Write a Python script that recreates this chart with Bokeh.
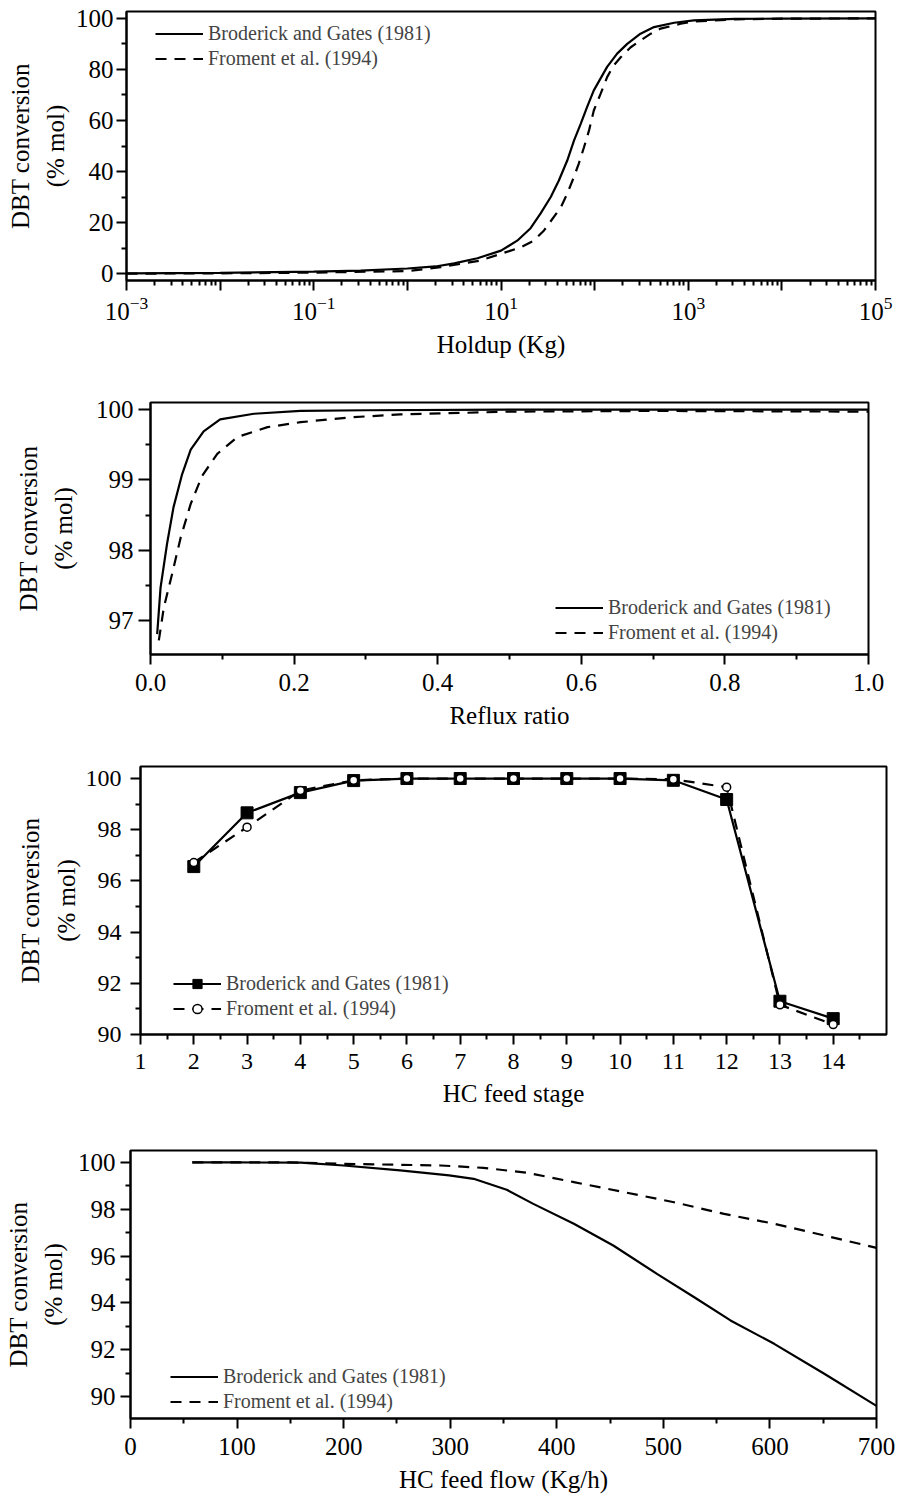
from bokeh.plotting import figure
from bokeh.models import FixedTicker, Legend, LegendItem, PrintfTickFormatter, Range1d
from bokeh.embed import file_html
from bokeh.resources import INLINE

FONT = "Liberation Serif"
YLABEL = "DBT conversion\n(% mol)"
BG_LABEL = "Broderick and Gates (1981)"
FR_LABEL = "Froment et al. (1994)"

# ---- Panel 1: Holdup (Kg), log axis ----
holdup_bg_x = [0.001, 0.01, 0.1, 0.316, 1, 2, 3.16, 5.6, 10, 14.9, 20.7, 26.5, 34, 41.5, 51, 60.3, 71, 83, 98,
               136, 174, 223, 309, 431, 708, 1150, 3160, 10000, 100000]
holdup_bg_y = [0.1, 0.3, 0.8, 1.2, 2.0, 2.8, 4.0, 6.0, 9.0, 12.9, 17.8, 23.6, 30.0, 36.5, 44.3, 52.2, 58.7, 65.2, 71.8,
               81.0, 86.2, 90.0, 94.0, 96.6, 98.3, 99.2, 99.8, 99.9, 100.0]
holdup_fr_x = [0.001, 0.01, 0.1, 1, 2.26, 6.0, 16.2, 22.4, 28.8, 43.6, 51, 60, 67.6, 77, 87, 98, 116, 136, 160, 190,
               243, 310, 398, 507, 830, 1150, 3160, 10000, 100000]
holdup_fr_y = [0.0, 0.1, 0.4, 1.0, 2.5, 5.1, 10.3, 12.9, 16.9, 26.0, 31.3, 37.8, 43.0, 49.5, 56.0, 63.9, 70.5, 77.0,
               81.6, 84.8, 88.7, 91.4, 94.0, 96.0, 97.9, 98.8, 99.6, 99.9, 100.0]
holdup_major = [1e-3, 1e-2, 1e-1, 1e0, 1e1, 1e2, 1e3, 1e4, 1e5]
holdup_unlabeled = [1e-2, 1e0, 1e2, 1e4]
holdup_y_ticks = [0, 20, 40, 60, 80, 100]
holdup_y_minor = [10, 30, 50, 70, 90]

# ---- Panel 2: Reflux ratio ----
reflux_bg_x = [0.0093, 0.014, 0.023, 0.032, 0.044, 0.056, 0.074, 0.097, 0.144, 0.209, 0.3, 0.5, 0.7, 1.0]
reflux_bg_y = [96.81, 97.47, 98.09, 98.61, 99.08, 99.43, 99.69, 99.86, 99.94, 99.98, 99.99, 100.0, 100.0, 100.0]
reflux_fr_x = [0.0116, 0.0186, 0.030, 0.042, 0.056, 0.072, 0.093, 0.121, 0.163, 0.209, 0.279, 0.348, 0.5, 0.7, 1.0]
reflux_fr_y = [96.72, 97.19, 97.66, 98.18, 98.66, 99.06, 99.37, 99.61, 99.75, 99.82, 99.89, 99.93, 99.97, 99.98, 99.97]
reflux_x_ticks = [0.0, 0.2, 0.4, 0.6, 0.8, 1.0]
reflux_x_minor = [0.1, 0.3, 0.5, 0.7, 0.9]
reflux_y_ticks = [97, 98, 99, 100]
reflux_y_minor = [96.5, 97.5, 98.5, 99.5]

# ---- Panel 3: HC feed stage ----
stage = [2, 3, 4, 5, 6, 7, 8, 9, 10, 11, 12, 13, 14]
stage_bg = [96.56, 98.66, 99.45, 99.92, 100.0, 100.0, 100.0, 100.0, 100.0, 99.93, 99.18, 91.3, 90.62]
stage_fr = [96.72, 98.1, 99.53, 99.93, 100.0, 100.0, 100.0, 100.0, 100.0, 99.97, 99.66, 91.16, 90.39]
stage_x_ticks = list(range(1, 15))
stage_x_minor = [k + 0.5 for k in range(1, 15)]
stage_y_ticks = [90, 92, 94, 96, 98, 100]
stage_y_minor = [91, 93, 95, 97, 99]

# ---- Panel 4: HC feed flow (Kg/h) ----
flow_bg_x = [58, 100, 160, 200, 253, 299, 322, 353, 378, 416, 453, 494, 529, 563, 604, 651, 700]
flow_bg_y = [100.0, 100.0, 99.99, 99.87, 99.66, 99.45, 99.30, 98.83, 98.23, 97.38, 96.45, 95.24, 94.24, 93.25, 92.25, 90.97, 89.6]
flow_fr_x = [58, 150, 200, 250, 291, 331, 372, 416, 463, 510, 557, 604, 651, 700]
flow_fr_y = [100.0, 100.0, 99.94, 99.9, 99.87, 99.77, 99.56, 99.16, 98.73, 98.30, 97.80, 97.38, 96.88, 96.35]
flow_x_ticks = [0, 100, 200, 300, 400, 500, 600, 700]
flow_x_minor = [50, 150, 250, 350, 450, 550, 650]
flow_y_ticks = [90, 92, 94, 96, 98, 100]
flow_y_minor = [89, 91, 93, 95, 97, 99]

DASH = "11 8"


def make_fig(fw, fh, left, right, top, bottom, xr, yr, xlabel, xtype="linear",
             tick_font="25px", ylab_standoff=5, xlab_standoff=8, xstd=9, ytick_len=10, ylab_std=3):
    p = figure(frame_width=fw, frame_height=fh,
               min_border_left=left, min_border_right=right,
               min_border_top=top, min_border_bottom=bottom,
               x_range=Range1d(*xr), y_range=Range1d(*yr), x_axis_type=xtype,
               output_backend="svg", toolbar_location=None)
    p.grid.visible = False
    p.outline_line_color = "black"
    p.outline_line_width = 2
    p.outline_line_alpha = 1
    p.background_fill_color = "white"
    p.border_fill_color = "white"
    for ax in (p.xaxis[0], p.yaxis[0]):
        ax.axis_line_width = 2
        ax.major_tick_line_width = 2
        ax.minor_tick_line_width = 2
        ax.major_tick_in = 0
        ax.minor_tick_in = 0
        ax.minor_tick_out = 5
        ax.major_label_text_font = FONT
        ax.major_label_text_font_size = tick_font
        ax.major_label_text_color = "black"
        ax.axis_label_text_font = FONT
        ax.axis_label_text_font_size = "25px"
        ax.axis_label_text_font_style = "normal"
        ax.axis_label_text_color = "black"
    p.xaxis[0].major_tick_out = 10
    p.yaxis[0].major_tick_out = ytick_len
    p.xaxis[0].axis_label = xlabel
    p.xaxis[0].axis_label_standoff = xlab_standoff
    p.xaxis[0].major_label_standoff = xstd
    p.yaxis[0].axis_label = YLABEL
    p.yaxis[0].axis_label_standoff = ylab_standoff
    p.yaxis[0].major_label_standoff = ylab_std
    p.yaxis[0].axis_label_text_line_height = 1.3
    return p


def make_legend(items, loc):
    lg = Legend(items=items, location=loc, padding=0, margin=0, spacing=2,
                glyph_width=48, glyph_height=23, label_height=23, label_standoff=5,
                label_text_font=FONT, label_text_font_size="20px",
                border_line_alpha=0, background_fill_alpha=0)
    return lg


# Panel 1
p1 = make_fig(749, 269, 126, 22, 11, 80, (1e-3, 1e5), (-2.7, 102.7), "Holdup (Kg)",
              xtype="log", ylab_standoff=4, xstd=6, xlab_standoff=8)
p1.xaxis[0].ticker = FixedTicker(
    ticks=holdup_major,
    minor_ticks=[m * d for d in holdup_major[:-1] for m in range(2, 10)])
p1.xaxis[0].major_label_overrides = {v: "" for v in holdup_unlabeled}
p1.yaxis[0].ticker = FixedTicker(ticks=holdup_y_ticks, minor_ticks=holdup_y_minor)
l1a = p1.line(holdup_bg_x, holdup_bg_y, line_color="black", line_width=2.2)
l1b = p1.line(holdup_fr_x, holdup_fr_y, line_color="black", line_width=2.2, line_dash=DASH)
p1.add_layout(make_legend([LegendItem(label=BG_LABEL, renderers=[l1a]),
                           LegendItem(label=FR_LABEL, renderers=[l1b])], (29, 210)))

# Panel 2
p2 = make_fig(718, 252, 150, 29, 42, 86, (0, 1), (96.52, 100.1), "Reflux ratio",
              ylab_standoff=16, ytick_len=12, ylab_std=5)
p2.xaxis[0].ticker = FixedTicker(ticks=reflux_x_ticks, minor_ticks=reflux_x_minor)
p2.xaxis[0].formatter = PrintfTickFormatter(format="%.1f")
p2.yaxis[0].ticker = FixedTicker(ticks=reflux_y_ticks, minor_ticks=reflux_y_minor)
l2a = p2.line(reflux_bg_x, reflux_bg_y, line_color="black", line_width=2.2)
l2b = p2.line(reflux_fr_x, reflux_fr_y, line_color="black", line_width=2.2, line_dash=DASH)
p2.add_layout(make_legend([LegendItem(label=BG_LABEL, renderers=[l2a]),
                           LegendItem(label=FR_LABEL, renderers=[l2b])], (405, 10)))

# Panel 3
p3 = make_fig(746, 268, 140, 11, 26, 76, (1, 15), (90, 100.47), "HC feed stage",
              tick_font="24px", ylab_standoff=3, ylab_std=9)
p3.xaxis[0].ticker = FixedTicker(ticks=stage_x_ticks, minor_ticks=stage_x_minor)
p3.yaxis[0].ticker = FixedTicker(ticks=stage_y_ticks, minor_ticks=stage_y_minor)
l3a = p3.line(stage, stage_bg, line_color="black", line_width=2.2)
s3a = p3.scatter(stage, stage_bg, marker="square", size=12, fill_color="black", line_color="black")
l3b = p3.line(stage, stage_fr, line_color="black", line_width=2.2, line_dash=DASH)
s3b = p3.scatter(stage, stage_fr, marker="circle", size=8, fill_color="white",
                 line_color="black", line_width=1.5)
p3.add_layout(make_legend([LegendItem(label=BG_LABEL, renderers=[l3a, s3a]),
                           LegendItem(label=FR_LABEL, renderers=[l3b, s3b])], (33, 14)))

# Panel 4
p4 = make_fig(746, 268, 130, 21, 40, 85, (0, 700), (89.06, 100.51), "HC feed flow (Kg/h)",
              ylab_standoff=8, ylab_std=5)
p4.xaxis[0].ticker = FixedTicker(ticks=flow_x_ticks, minor_ticks=flow_x_minor)
p4.yaxis[0].ticker = FixedTicker(ticks=flow_y_ticks, minor_ticks=flow_y_minor)
l4a = p4.line(flow_bg_x, flow_bg_y, line_color="black", line_width=2.2)
l4b = p4.line(flow_fr_x, flow_fr_y, line_color="black", line_width=2.2, line_dash=DASH)
p4.add_layout(make_legend([LegendItem(label=BG_LABEL, renderers=[l4a]),
                           LegendItem(label=FR_LABEL, renderers=[l4b])], (40, 5)))

open("out.html", "w").write(file_html([p1, p2, p3, p4], INLINE))
